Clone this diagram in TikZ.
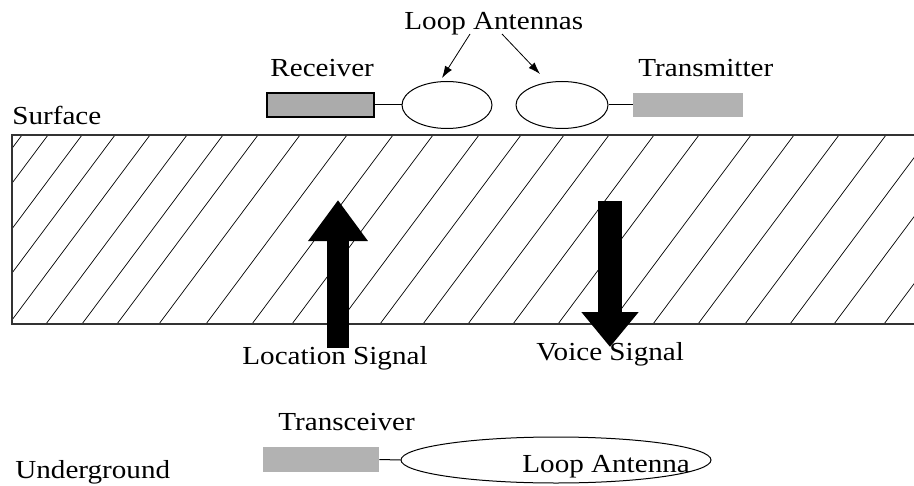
\documentclass[tikz,border=0pt]{standalone}
\usepackage{fontspec}
\setmainfont[FakeStretch=1.12]{Liberation Serif}
\usepackage{tikz}
\usetikzlibrary{shapes.geometric,arrows.meta,calc}

\begin{document}
\begin{tikzpicture}[x=0.5pt,y=-0.5pt]
        %
        % `label' is used for all the texts.
        % `unit' and `unitlight' are the grey boxes, `loopant' the antennas.
        % `bigup' / `bigdown' are the fat signal arrows.
        \tikzstyle{label} = [inner sep=0pt,anchor=base west,font=\fontsize{13}{15.5}\selectfont]
        \tikzstyle{unit} = [draw=black,fill=gray!66,line width=0.6pt,inner sep=0pt,minimum width=53.5pt,minimum height=12pt]
        \tikzstyle{unitlight} = [fill=gray!60,inner sep=0pt,minimum height=12pt]
        \tikzstyle{loopant} = [draw,ellipse,line width=0.5pt,inner sep=0pt]
        \tikzstyle{pointer} = [line width=0.4pt,-{Latex[length=6pt,width=4pt]}]
        \tikzstyle{bigup} = [line width=11pt,-{Triangle[length=20.5pt,width=28.5pt]}]
        \tikzstyle{bigdown} = [line width=12pt,-{Triangle[length=17.5pt,width=27.5pt]}]
        %
        \useasboundingbox (0,0) rectangle (914,486);
        %
        % Ground layer with hatching
        \begin{scope}
        \clip (12,135) rectangle (914,324);
        \foreach \t in {22,48,82,115,150,187,223,258,300,347,393,433,479,521,
                        564,609,654,699,751,794,839,886,931,975,1025}
            \draw[line width=0.35pt] (\t-141,324) -- (\t,135);
        \end{scope}
        \draw[line width=0.6pt,black!80] (914,135) -- (12,135) -- (12,324) -- (914,324);
        %
        % Surface equipment
        \node[label] (surface) at (12,125) {Surface};
        \node[unit] (recv) at (320.5,105) {};
        \node[label] (recvname) at (270,77) {Receiver};
        \node[loopant,minimum width=45pt,minimum height=23.5pt] (ant1) at (447,105) {};
        \node[loopant,minimum width=46pt,minimum height=23.5pt] (ant2) at (562,105) {};
        \node[unitlight,minimum width=55pt] (trans) at (688,105) {};
        \node[label] (transname) at (638,77) {Transmitter};
        \draw[line width=0.5pt] (recv.east) -- (ant1.west);
        \draw[line width=0.5pt] (ant2.east) -- (trans.west);
        %
        % Antenna pointers
        \node[label] (loops) at (404,30) {Loop Antennas};
        \coordinate (p1) at (470,34);
        \coordinate (p2) at (502,34);
        \draw[pointer] (p1) -- ($(ant1.north)+(-5,-3)$);
        \draw[pointer] (p2) -- ($(ant2.north)+(-22,-7)$);
        %
        % Signals
        \coordinate (upfoot) at (338,348);
        \coordinate (uptip) at (338,200);
        \coordinate (downtop) at (610,201);
        \coordinate (downtip) at (610,347);
        \draw[bigup] (upfoot) -- (uptip);
        \draw[bigdown] (downtop) -- (downtip);
        \node[label] (locsig) at (242,364) {Location Signal};
        \node[label] (voicesig) at (536,360) {Voice Signal};
        %
        % Underground equipment
        \node[label] (under) at (15,478) {Underground};
        \node[unitlight,minimum width=58pt,minimum height=12.5pt] (xcvr) at (321,459.5) {};
        \node[label] (xcvrname) at (278,430) {Transceiver};
        \node[loopant,minimum width=155pt,minimum height=23pt] (bigloop) at (556,460) {};
        \node[label] (bigloopname) at (522,472) {Loop Antenna};
        \draw[line width=0.5pt] (xcvr.east) -- (bigloop.west);
        %
\end{tikzpicture}
\end{document}
